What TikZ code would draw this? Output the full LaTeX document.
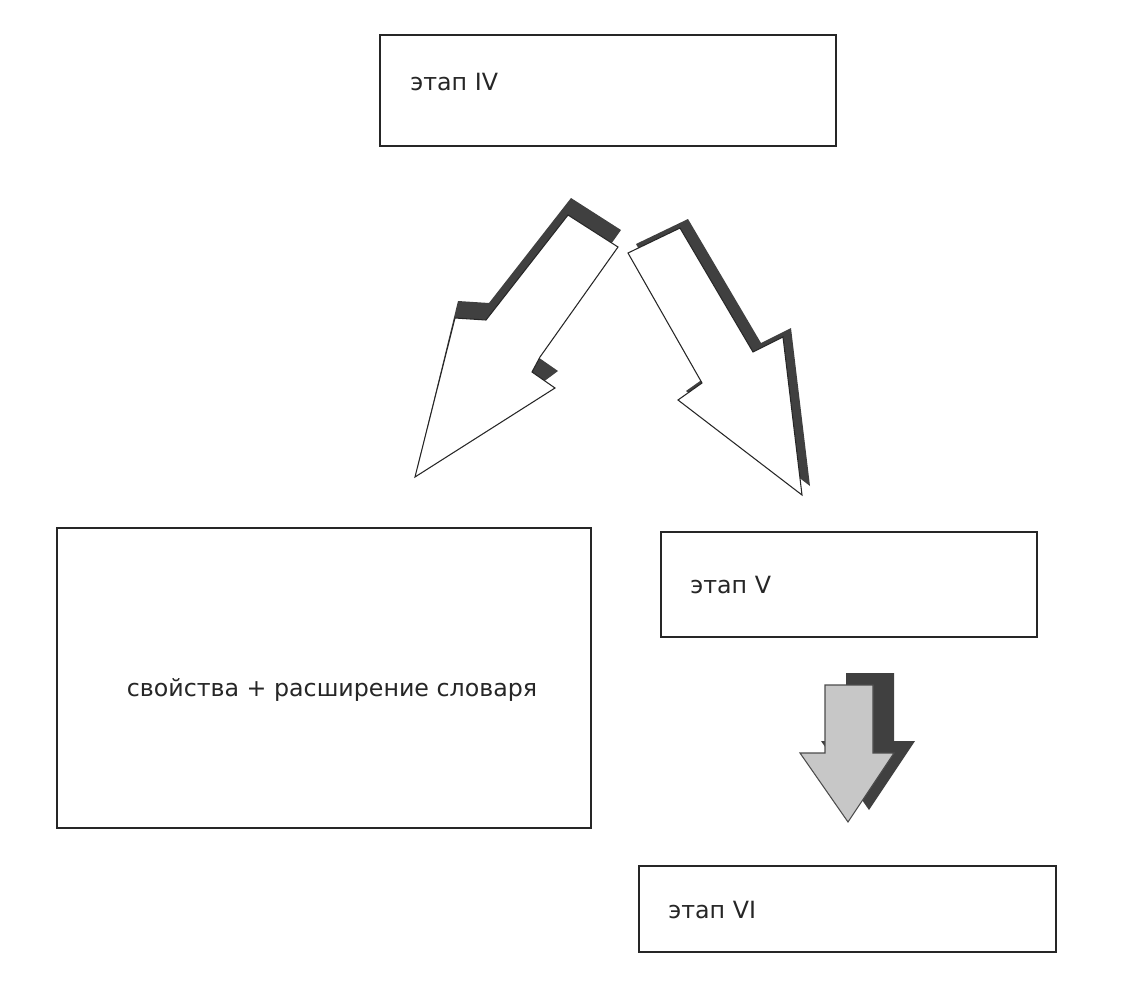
\documentclass[tikz,border=0pt]{standalone}
\usepackage{fontspec}
\setmainfont{DejaVu Sans}
\begin{document}
\begin{tikzpicture}[x=0.02cm,y=-0.02cm,
  box/.style={draw=black!85,line width=1.6pt,fill=white,inner sep=0pt},
  lbl/.style={font=\fontsize{13.5pt}{15pt}\selectfont,text=black!85,anchor=west,inner sep=0pt},
  arrowline/.style={draw=black!85,line width=0.6pt,fill=white},
  shadow/.style={fill=black!75,draw=none}]
\useasboundingbox (0,0) rectangle (1130,1001);
% boxes
\draw[box] (380,35) rectangle (836,146);
\node[lbl] (t4) at (410,82) {этап IV};
\draw[box] (57,528) rectangle (591,828);
\node[lbl,anchor=center] (tp) at (332,690) {свойства + расширение словаря};
\draw[box] (661,532) rectangle (1037,637);
\node[lbl] (t5) at (690,585) {этап V};
\draw[box] (639,866) rectangle (1056,952);
\node[lbl] (t6) at (668,910) {этап VI};
% left arrow
\fill[shadow] (571,198) -- (621,230) -- (543,340) -- (535,355) -- (558,371) -- (415,477) -- (458,301) -- (489,303) -- cycle;
\draw[arrowline] (568,215) -- (618,247) -- (540,357) -- (532,372) -- (555,388) -- (415,477) -- (455,318) -- (486,320) -- cycle;
% right arrow
\begin{scope}[shift={(8,-9)}]
\fill[shadow] (628,253) -- (680,228) -- (753,352) -- (783,337) -- (802,495) -- (678,400) -- (702,383) -- cycle;
\end{scope}
\draw[arrowline] (628,253) -- (680,228) -- (753,352) -- (783,337) -- (802,495) -- (678,400) -- (702,383) -- cycle;
% down arrow
\begin{scope}[shift={(21,-12)}]
\fill[black!75] (825,685) -- (873,685) -- (873,753) -- (894,753) -- (848,822) -- (800,753) -- (825,753) -- cycle;
\end{scope}
\draw[draw=black!70,line width=0.6pt,fill=black!22] (825,685) -- (873,685) -- (873,753) -- (894,753) -- (848,822) -- (800,753) -- (825,753) -- cycle;
\end{tikzpicture}
\end{document}
